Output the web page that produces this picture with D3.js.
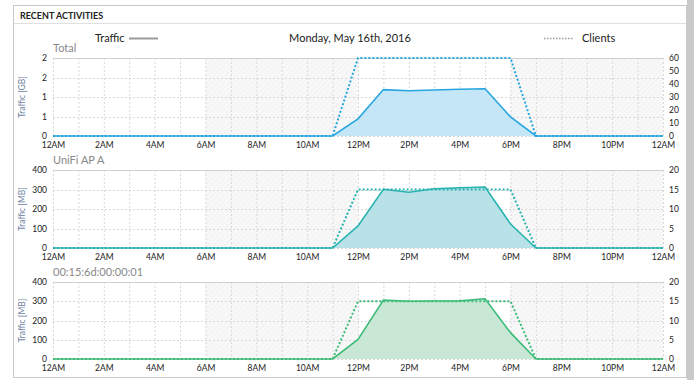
<!DOCTYPE html>
<html>
<head>
<meta charset="utf-8">
<script src="https://cdn.jsdelivr.net/npm/d3@7"></script>
<style>
  html, body { margin: 0; padding: 0; background: #fff; }
  svg { display: block; font-family: Lato, "Open Sans", sans-serif; }
</style>
</head>
<body>
<svg id="chart" width="694" height="380"></svg>
<script>
// Hours of the day (0 = 12AM .. 24 = next 12AM)
const hours = d3.range(0, 25);
const hourLabels = ["12AM", "2AM", "4AM", "6AM", "8AM", "10AM", "12PM", "2PM", "4PM", "6PM", "8PM", "10PM", "12AM"];

// Total traffic [GB] and clients
const totalTraffic = [0,0,0,0,0,0,0,0,0,0,0,0, 0.44, 1.19, 1.16, 1.18, 1.20, 1.21, 0.49, 0,0,0,0,0,0];
const totalClients = [0,0,0,0,0,0,0,0,0,0,0,0, 60, 60, 60, 60, 60, 60, 60, 0,0,0,0,0,0];

// UniFi AP A traffic [MB] and clients
const apTraffic = [0,0,0,0,0,0,0,0,0,0,0,0, 113, 301, 286, 304, 309, 313, 123, 0,0,0,0,0,0];
const apClients = [0,0,0,0,0,0,0,0,0,0,0,0, 15, 15, 15, 15, 15, 15, 15, 0,0,0,0,0,0];

// Device 00:15:6d:00:00:01 traffic [MB] and clients
const devTraffic = [0,0,0,0,0,0,0,0,0,0,0,0, 102, 306, 300, 301, 302, 313, 137, 0,0,0,0,0,0];
const devClients = [0,0,0,0,0,0,0,0,0,0,0,0, 15, 15, 15, 15, 15, 15, 15, 0,0,0,0,0,0];

// Axis tick labels
const gbTickValues = [0, 0.5, 1, 1.5, 2];
const gbTickLabels = ["0", "1", "1", "2", "2"];
const mbTickValues = [0, 100, 200, 300, 400];
const totalClientTicks = [0, 10, 20, 30, 40, 50, 60];
const apClientTicks = [0, 5, 10, 15, 20];

// Off-hours bands (start hour, end hour)
const offBands = [[6, 12], [18, 24]];

const svg = d3.select("#chart");

// Panel frame and shadow
svg.append("rect").attr("x", 687).attr("y", 0).attr("width", 7).attr("height", 380).attr("fill", "#c9c9c9");
svg.append("rect").attr("x", 13.5).attr("y", 5.5).attr("width", 673).attr("height", 372)
  .attr("fill", "#fff").attr("stroke", "#c8c8c8");
svg.append("text").attr("x", 20).attr("y", 19).attr("font-size", 9).attr("font-weight", "bold")
  .attr("fill", "#222").text("RECENT ACTIVITIES");
svg.append("line").attr("x1", 14).attr("x2", 686).attr("y1", 23.5).attr("y2", 23.5).attr("stroke", "#e0e0e0");

// Legend row
svg.append("text").attr("x", 95).attr("y", 42).attr("font-size", 11).attr("fill", "#222").text("Traffic");
svg.append("line").attr("x1", 129).attr("x2", 158).attr("y1", 38.5).attr("y2", 38.5)
  .attr("stroke", "#9a9a9a").attr("stroke-width", 2);
svg.append("text").attr("x", 350).attr("y", 42).attr("font-size", 11).attr("fill", "#222")
  .attr("text-anchor", "middle").text("Monday, May 16th, 2016");
svg.append("line").attr("x1", 544).attr("x2", 573).attr("y1", 38.5).attr("y2", 38.5)
  .attr("stroke", "#9a9a9a").attr("stroke-width", 1.5).attr("stroke-dasharray", "1.5,1.5");
svg.append("text").attr("x", 582).attr("y", 42).attr("font-size", 11).attr("fill", "#222").text("Clients");

// Hatch pattern for off-hours
const defs = svg.append("defs");
const pat = defs.append("pattern").attr("id", "hatch").attr("patternUnits", "userSpaceOnUse")
  .attr("width", 4).attr("height", 4).attr("patternTransform", "rotate(45)");
pat.append("rect").attr("width", 4).attr("height", 4).attr("fill", "#f8f8f8");
pat.append("line").attr("x1", 0).attr("x2", 0).attr("y1", 0).attr("y2", 4)
  .attr("stroke", "#ececec").attr("stroke-width", 1);

const x = d3.scaleLinear().domain([0, 24]).range([53, 663]);

const panels = [
  { title: "Total", yTitle: "Traffic [GB]", top: 58, bottom: 136, tMax: 2, cMax: 60,
    traffic: totalTraffic, clients: totalClients, tTicks: gbTickValues, tLabels: gbTickLabels,
    cTicks: totalClientTicks, line: "#27a6e0", fill: "#c4e6f7" },
  { title: "UniFi AP A", yTitle: "Traffic [MB]", top: 170, bottom: 248, tMax: 400, cMax: 20,
    traffic: apTraffic, clients: apClients, tTicks: mbTickValues, tLabels: mbTickValues.map(String),
    cTicks: apClientTicks, line: "#28b3b0", fill: "#b9e1e8" },
  { title: "00:15:6d:00:00:01", yTitle: "Traffic [MB]", top: 282, bottom: 359, tMax: 400, cMax: 20,
    traffic: devTraffic, clients: devClients, tTicks: mbTickValues, tLabels: mbTickValues.map(String),
    cTicks: apClientTicks, line: "#3dbb78", fill: "#c8e8d5" }
];

panels.forEach(p => {
  const g = svg.append("g");
  const yT = d3.scaleLinear().domain([0, p.tMax]).range([p.bottom, p.top]);
  const yC = d3.scaleLinear().domain([0, p.cMax]).range([p.bottom, p.top]);

  // Off-hours hatching
  offBands.forEach(([a, b]) => {
    g.append("rect").attr("x", x(a)).attr("y", p.top).attr("width", x(b) - x(a))
      .attr("height", p.bottom - p.top).attr("fill", "url(#hatch)");
  });

  // Vertical hourly grid
  g.selectAll(".vg").data(hours).join("line")
    .attr("x1", d => x(d) + 0.5).attr("x2", d => x(d) + 0.5)
    .attr("y1", p.top).attr("y2", p.bottom)
    .attr("stroke", "#d8d8d8").attr("stroke-dasharray", "2,2");

  // Horizontal grid
  g.selectAll(".hg").data(p.tTicks).join("line")
    .attr("x1", x(0)).attr("x2", x(24))
    .attr("y1", d => Math.round(yT(d)) + 0.5).attr("y2", d => Math.round(yT(d)) + 0.5)
    .attr("stroke", (d, i) => i === p.tTicks.length - 1 ? "#d0d0d0" : "#d8d8d8")
    .attr("stroke-dasharray", (d, i) => i === p.tTicks.length - 1 ? null : "2,2");

  // Traffic area and line
  const area = d3.area().x((d, i) => x(hours[i])).y0(p.bottom).y1(d => yT(d));
  const line = d3.line().x((d, i) => x(hours[i])).y(d => yT(d));
  g.append("path").datum(p.traffic).attr("d", area).attr("fill", p.fill);
  g.append("path").datum(p.traffic).attr("d", line).attr("fill", "none")
    .attr("stroke", p.line).attr("stroke-width", 1.6);

  // Clients dotted line
  const cLine = d3.line().x((d, i) => x(hours[i])).y(d => yC(d));
  g.append("path").datum(p.clients).attr("d", cLine).attr("fill", "none")
    .attr("stroke", p.line).attr("stroke-width", 2).attr("stroke-dasharray", "2,2");

  // Left axis (traffic)
  const leftAxis = d3.axisLeft(yT).tickValues(p.tTicks).tickSize(0).tickPadding(6)
    .tickFormat((d, i) => p.tLabels[i]);
  const la = g.append("g").attr("transform", `translate(${x(0)},0)`).call(leftAxis);
  la.select(".domain").remove();
  la.selectAll("text").attr("font-size", 8.5).attr("fill", "#222").attr("font-family", "Lato, sans-serif");

  // Right axis (clients)
  const rightAxis = d3.axisRight(yC).tickValues(p.cTicks).tickSize(0).tickPadding(6);
  const ra = g.append("g").attr("transform", `translate(${x(24)},0)`).call(rightAxis);
  ra.select(".domain").remove();
  ra.selectAll("text").attr("font-size", 8.5).attr("fill", "#222").attr("font-family", "Lato, sans-serif");

  // Bottom axis (hours)
  const bottomAxis = d3.axisBottom(x).tickValues(d3.range(0, 25, 2)).tickSize(0).tickPadding(6)
    .tickFormat((d, i) => hourLabels[i]);
  const ba = g.append("g").attr("transform", `translate(0,${p.bottom})`).call(bottomAxis);
  ba.select(".domain").remove();
  ba.selectAll("text").attr("font-size", 8.5).attr("fill", "#222").attr("font-family", "Lato, sans-serif");

  // Titles
  g.append("text").attr("x", x(0)).attr("y", p.top - 6).attr("font-size", 11).attr("fill", "#888")
    .text(p.title);
  g.append("text").attr("transform", `translate(25,${(p.top + p.bottom) / 2}) rotate(-90)`)
    .attr("text-anchor", "middle").attr("font-size", 8.5).attr("fill", "#6e7fa3").text(p.yTitle);
});
</script>
</body>
</html>
